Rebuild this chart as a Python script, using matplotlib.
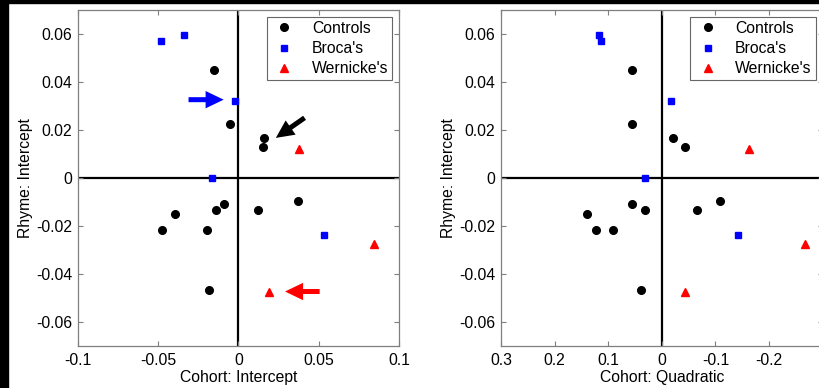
import matplotlib
matplotlib.use("Agg")
import matplotlib.pyplot as plt
from matplotlib.patches import Rectangle, FancyArrowPatch

plt.rcParams['font.family'] = ['Liberation Sans', 'DejaVu Sans']

# ---- data ----
ctrl_rhyme = [0.0449, 0.0226, 0.0168, 0.0130, -0.0098, -0.0134, -0.0111, -0.0132,
              -0.0151, -0.0219, -0.0218, -0.0468]
ctrl_cohort_int = [-0.0153, -0.0052, 0.0160, 0.0153, 0.0369, 0.0122, -0.0091, -0.0139,
                   -0.0392, -0.0473, -0.0197, -0.0184]
ctrl_cohort_quad = [0.056, 0.056, -0.020, -0.043, -0.108, -0.066, 0.056, 0.032,
                    0.140, 0.122, 0.091, 0.039]

broca_rhyme = [0.0570, 0.0597, 0.0322, 0.0, -0.0237]
broca_cohort_int = [-0.0485, -0.0336, -0.0019, -0.0162, 0.0531]
broca_cohort_quad = [0.114, 0.118, -0.017, 0.032, -0.142]

wern_rhyme = [0.0121, -0.0274, -0.0474]
wern_cohort_int = [0.0379, 0.0842, 0.0189]
wern_cohort_quad = [-0.163, -0.267, -0.0435]

group_names = ["Controls", "Broca's", "Wernicke's"]

left_xticks = [-0.1, -0.05, 0, 0.05, 0.1]
left_xticklabels = ["-0.1", "-0.05", "0", "0.05", "0.1"]
right_xticks = [0.3, 0.2, 0.1, 0, -0.1, -0.2]
right_xticklabels = ["0.3", "0.2", "0.1", "0", "-0.1", "-0.2"]
yticks = [-0.06, -0.04, -0.02, 0, 0.02, 0.04, 0.06]
yticklabels = ["-0.06", "-0.04", "-0.02", "0", "0.02", "0.04", "0.06"]

# arrows (left panel): (x_start, y_start, x_end, y_end, color)
arrows = [(-0.0328, 0.0326, -0.0075, 0.0326, "#0000ff"),
          (0.0425, 0.0257, 0.0218, 0.0160, "black"),
          (0.0522, -0.0474, 0.0272, -0.0474, "#ff0000")]

fig = plt.figure(figsize=(8.2, 3.88), dpi=100)
W, H = 820, 388

def make_axes(left_px):
    return fig.add_axes([left_px / W, (H - 345.7) / H, 321.6 / W, 335.7 / H])

axL = make_axes(77.7)
axR = make_axes(501.0)

gray = "#7f7f7f"
FS = 11.3

def style(ax, xlim, xt, xtl, xlabel):
    ax.set_xlim(*xlim)
    ax.set_ylim(-0.07, 0.07)
    ax.set_xticks(xt)
    ax.set_xticklabels(xtl)
    ax.set_yticks(yticks)
    ax.set_yticklabels(yticklabels)
    for s in ax.spines.values():
        s.set_color(gray)
        s.set_linewidth(0.9)
    ax.tick_params(direction='in', length=3.5, width=0.8, color=gray,
                   top=True, right=True, labelsize=FS, labelcolor='black')
    ax.tick_params(axis='x', pad=5)
    ax.tick_params(axis='y', pad=4)
    ax.axhline(0, color='black', lw=1.6, zorder=1)
    ax.axvline(0, color='black', lw=1.6, zorder=1)
    ax.set_xlabel(xlabel, fontsize=FS, labelpad=2)
    ax.set_ylabel("Rhyme: Intercept", fontsize=FS, labelpad=2)

def draw(ax, cx, bx, wx):
    ax.plot(cx, ctrl_rhyme, 'o', color='black', ms=5.5, zorder=3, label=group_names[0])
    ax.plot(bx, broca_rhyme, 's', color='#0000ff', ms=4.4, zorder=3, label=group_names[1])
    ax.plot(wx, wern_rhyme, '^', color='#ff0000', ms=5.8, zorder=3, label=group_names[2])
    leg = ax.legend(loc='upper right', fontsize=FS, frameon=True, fancybox=False,
                    edgecolor='#404040', borderpad=0.25, labelspacing=0.32,
                    handlelength=1.7, handletextpad=0.9, borderaxespad=0.45,
                    markerscale=1.0)
    leg.get_frame().set_linewidth(0.8)

style(axL, (-0.1, 0.1), left_xticks, left_xticklabels, "Cohort: Intercept")
style(axR, (0.3, -0.3), right_xticks, right_xticklabels, "Cohort: Quadratic")
draw(axL, ctrl_cohort_int, broca_cohort_int, wern_cohort_int)
draw(axR, ctrl_cohort_quad, broca_cohort_quad, wern_cohort_quad)

for x0, y0, x1, y1, c in arrows:
    axL.add_patch(FancyArrowPatch((x0, y0), (x1, y1),
                                  arrowstyle='simple,head_length=1.3,head_width=1.25,tail_width=0.36',
                                  mutation_scale=10, color=c, lw=0, zorder=4))

# black borders of the original crop
fig.patches.append(Rectangle((0, 0), 8 / W, 1, transform=fig.transFigure,
                             color='black', zorder=10))
fig.patches.append(Rectangle((0, 1 - 3 / H), 1, 3 / H, transform=fig.transFigure,
                             color='black', zorder=10))

fig.savefig("out.png", dpi=100)
